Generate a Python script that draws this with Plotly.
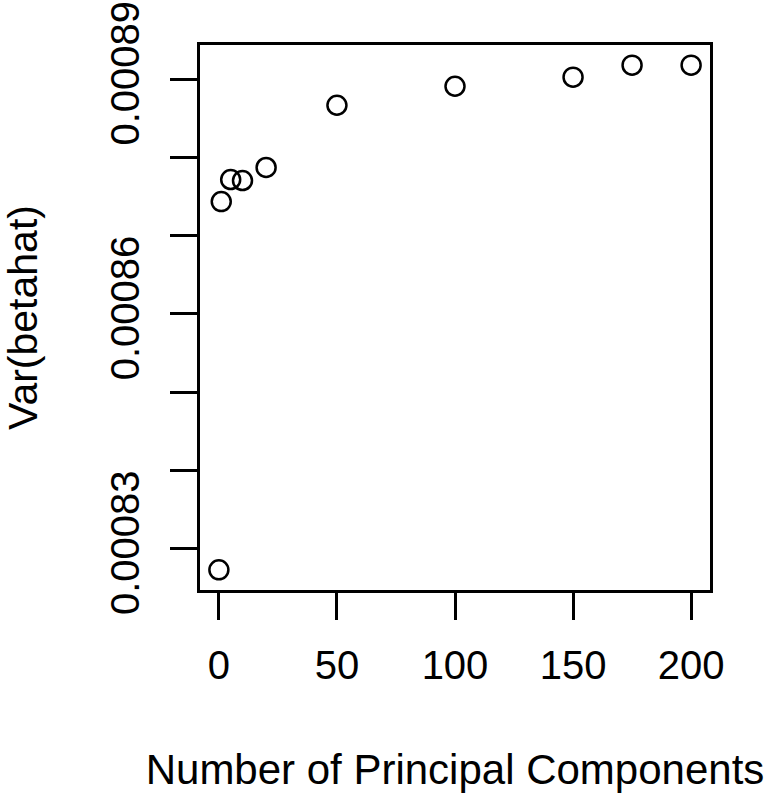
import plotly.graph_objects as go

# number of principal components used and the variance of betahat
n_components = [0, 1, 5, 10, 20, 50, 100, 150, 175, 200]
var_betahat = [0.00082731, 0.00087436, 0.00087718, 0.00087705, 0.00087872,
               0.00088667, 0.00088910, 0.00089026, 0.00089179, 0.00089179]

# y ticks every 1e-5, only some of them get a label (like R drops overlapping ones)
y_ticks = [0.00083, 0.00084, 0.00085, 0.00086, 0.00087, 0.00088, 0.00089]
y_labels = ["0.00083", "", "", "0.00086", "", "", "0.00089"]
x_ticks = [0, 50, 100, 150, 200]


def r_range(vals):
    # R pads the data range by 4% on each side
    lo, hi = min(vals), max(vals)
    pad = 0.04 * (hi - lo)
    return [lo - pad, hi + pad]


fig = go.Figure()
fig.add_trace(go.Scatter(
    x=n_components, y=var_betahat, mode="markers",
    marker=dict(symbol="circle-open", size=19, color="black",
                line=dict(width=2.5, color="black")),
    showlegend=False,
))

axis_style = dict(
    showline=True, linecolor="black", linewidth=2.5, mirror=True,
    ticks="outside", ticklen=27, tickwidth=2.5, tickcolor="black",
    showgrid=False, zeroline=False, automargin=False,
    tickfont=dict(size=40),
)

fig.update_xaxes(
    **axis_style, range=r_range(n_components),
    tickvals=x_ticks, ticklabelstandoff=11,
    title=dict(text="Number of Principal Components", standoff=69,
               font=dict(size=42)),
)
fig.update_yaxes(
    **axis_style, range=r_range(var_betahat),
    tickvals=y_ticks, ticktext=y_labels, tickangle=-90, ticklabelstandoff=15,
    title=dict(text="Var(betahat)", standoff=63, font=dict(size=41)),
)

fig.update_layout(
    width=771, height=800,
    margin=dict(l=200, r=61, t=45, b=210),
    paper_bgcolor="white", plot_bgcolor="white",
    font=dict(family="Liberation Sans, Arial, sans-serif", size=40, color="black"),
)

# drop the browser's default 8px body margin so the figure sits at the corner
fig.write_html("out.html", config={"displayModeBar": False},
               post_script="document.body.style.margin = '0';")
